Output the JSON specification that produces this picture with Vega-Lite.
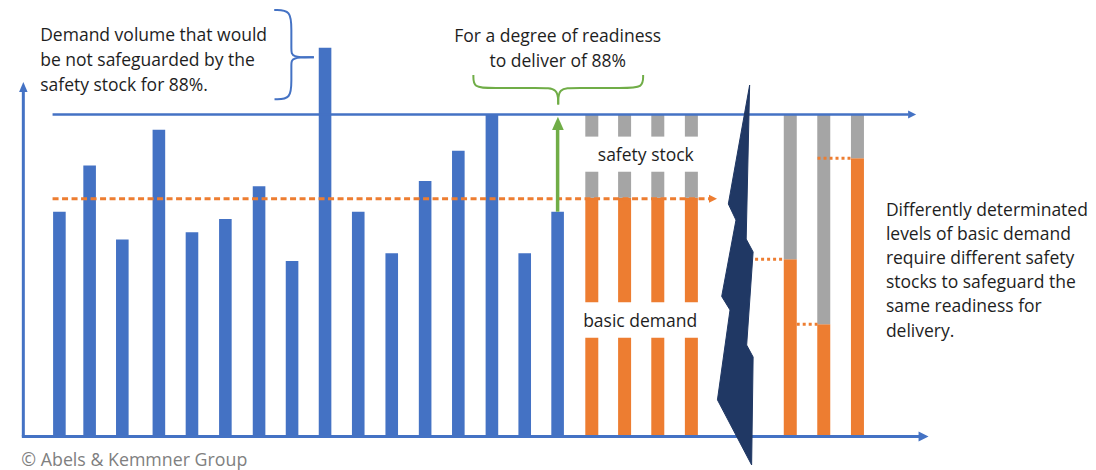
{
  "$schema": "https://vega.github.io/schema/vega-lite/v6.json",
  "width": 1096,
  "height": 470,
  "autosize": {"type": "none"},
  "padding": 0,
  "background": "white",
  "config": {"view": {"stroke": null}},
  "encoding": {
    "x": {"field": "x", "type": "quantitative", "scale": {"domain": [0, 1096], "nice": false, "zero": false}, "axis": null},
    "y": {"field": "y", "type": "quantitative", "scale": {"domain": [-10.37, 135.5], "nice": false, "zero": false}, "axis": null}
  },
  "layer": [
    {
      "data": {"values": [
        {"x": 54.9, "y": 69.8}, {"x": 85.4, "y": 84.1}, {"x": 118.4, "y": 61.2}, {"x": 155.3, "y": 95.2},
        {"x": 188.7, "y": 63.4}, {"x": 222.4, "y": 67.5}, {"x": 256.4, "y": 77.7}, {"x": 289.7, "y": 54.5},
        {"x": 323, "y": 120.7}, {"x": 356.5, "y": 69.8}, {"x": 390.3, "y": 56.9}, {"x": 424, "y": 79.3},
        {"x": 457.5, "y": 88.7}, {"x": 491.4, "y": 100}, {"x": 524.5, "y": 56.9}, {"x": 557.7, "y": 69.8}
      ]},
      "mark": {"type": "bar", "width": 12.6, "color": "#4472C4"},
      "encoding": {"y2": {"datum": 0}}
    },
    {
      "data": {"values": [
        {"x": 592.2, "y": 30.7, "y2": 0, "k": "basic demand"}, {"x": 592.2, "y": 74.1, "y2": 41.7, "k": "basic demand"}, {"x": 592.2, "y": 82.2, "y2": 74.1, "k": "safety stock"}, {"x": 592.2, "y": 100, "y2": 93.1, "k": "safety stock"},
        {"x": 625.3, "y": 30.7, "y2": 0, "k": "basic demand"}, {"x": 625.3, "y": 74.1, "y2": 41.7, "k": "basic demand"}, {"x": 625.3, "y": 82.2, "y2": 74.1, "k": "safety stock"}, {"x": 625.3, "y": 100, "y2": 93.1, "k": "safety stock"},
        {"x": 658.8, "y": 30.7, "y2": 0, "k": "basic demand"}, {"x": 658.8, "y": 74.1, "y2": 41.7, "k": "basic demand"}, {"x": 658.8, "y": 82.2, "y2": 74.1, "k": "safety stock"}, {"x": 658.8, "y": 100, "y2": 93.1, "k": "safety stock"},
        {"x": 692.7, "y": 30.7, "y2": 0, "k": "basic demand"}, {"x": 692.7, "y": 74.1, "y2": 41.7, "k": "basic demand"}, {"x": 692.7, "y": 82.2, "y2": 74.1, "k": "safety stock"}, {"x": 692.7, "y": 100, "y2": 93.1, "k": "safety stock"},
        {"x": 792.5, "y": 55, "y2": 0, "k": "basic demand"}, {"x": 792.5, "y": 100, "y2": 55, "k": "safety stock"},
        {"x": 826.3, "y": 34.9, "y2": 0, "k": "basic demand"}, {"x": 826.3, "y": 100, "y2": 34.9, "k": "safety stock"},
        {"x": 860.3, "y": 86.4, "y2": 0, "k": "basic demand"}, {"x": 860.3, "y": 100, "y2": 86.4, "k": "safety stock"}
      ]},
      "mark": {"type": "bar", "width": 13},
      "encoding": {
        "y2": {"field": "y2"},
        "color": {"field": "k", "type": "nominal", "scale": {"domain": ["basic demand", "safety stock"], "range": ["#ED7D31", "#A5A5A5"]}, "legend": null}
      }
    },
    {
      "data": {"values": [
        {"x": 18.5, "y": 0, "x2": 18.5, "y2": 108},
        {"x": 17, "y": 0, "x2": 923, "y2": 0}
      ]},
      "mark": {"type": "rule", "color": "#4472C4", "strokeWidth": 3},
      "encoding": {"x2": {"field": "x2"}, "y2": {"field": "y2"}}
    },
    {
      "data": {"values": [{"x": 48, "y": 100, "x2": 912, "y2": 100}]},
      "mark": {"type": "rule", "color": "#4472C4", "strokeWidth": 2.5},
      "encoding": {"x2": {"field": "x2"}, "y2": {"field": "y2"}}
    },
    {
      "data": {"values": [{"x": 48, "y": 73.8, "x2": 711, "y2": 73.8}]},
      "mark": {"type": "rule", "color": "#ED7D31", "strokeWidth": 3, "strokeDash": [6, 3.5]},
      "encoding": {"x2": {"field": "x2"}, "y2": {"field": "y2"}}
    },
    {
      "data": {"values": [
        {"x": 757, "y": 55, "x2": 786, "y2": 55},
        {"x": 799, "y": 34.9, "x2": 820, "y2": 34.9},
        {"x": 820, "y": 86.4, "x2": 854, "y2": 86.4}
      ]},
      "mark": {"type": "rule", "color": "#ED7D31", "strokeWidth": 3, "strokeDash": [3, 3]},
      "encoding": {"x2": {"field": "x2"}, "y2": {"field": "y2"}}
    },
    {
      "data": {"values": [{"x": 557.7, "y": 69.8, "x2": 557.7, "y2": 96.5}]},
      "mark": {"type": "rule", "color": "#70AD47", "strokeWidth": 3.5},
      "encoding": {"x2": {"field": "x2"}, "y2": {"field": "y2"}}
    },
    {
      "data": {"values": [{"x": 18.5, "y": 108.5}]},
      "mark": {"type": "point", "filled": true, "opacity": 1, "color": "#4472C4", "size": 100, "shape": "M0,-1L0.85,1L-0.85,1Z"}
    },
    {
      "data": {"values": [{"x": 915.5, "y": 100}]},
      "mark": {"type": "point", "filled": true, "opacity": 1, "color": "#4472C4", "size": 64, "shape": "M1,0L-1,-1L-1,1Z"}
    },
    {
      "data": {"values": [{"x": 927, "y": 0}]},
      "mark": {"type": "point", "filled": true, "opacity": 1, "color": "#4472C4", "size": 100, "shape": "M1,0L-1,-1L-1,1Z"}
    },
    {
      "data": {"values": [{"x": 714.5, "y": 73.8}]},
      "mark": {"type": "point", "filled": true, "opacity": 1, "color": "#ED7D31", "size": 64, "shape": "M1,0L-1,-1L-1,1Z"}
    },
    {
      "data": {"values": [{"x": 558, "y": 97.2}]},
      "mark": {"type": "point", "filled": true, "opacity": 1, "color": "#70AD47", "size": 177, "shape": "M0,-1L0.88,1L-0.88,1Z"}
    },
    {
      "data": {"values": [
        {"i": 0, "x": 751.5, "y": 109.1}, {"i": 1, "x": 748, "y": 61.3}, {"i": 2, "x": 755, "y": 57.3},
        {"i": 3, "x": 748.5, "y": 28.4}, {"i": 4, "x": 755, "y": 24.7}, {"i": 5, "x": 753.5, "y": -8.8},
        {"i": 6, "x": 719, "y": 11.4}, {"i": 7, "x": 731.7, "y": 39.3}, {"i": 8, "x": 723.3, "y": 43.5},
        {"i": 9, "x": 737.7, "y": 67.2}, {"i": 10, "x": 730, "y": 72.2}
      ]},
      "mark": {"type": "line", "interpolate": "linear-closed", "fill": "#203864", "stroke": "#203864", "strokeWidth": 1},
      "encoding": {"order": {"field": "i", "type": "quantitative"}}
    },
    {
      "data": {"values": [
        {"s": "b1", "i": 0, "x": 271.7, "y": 132.4}, {"s": "b1", "i": 1, "x": 289, "y": 132.4}, {"s": "b1", "i": 2, "x": 289, "y": 126.2},
        {"s": "b1", "i": 3, "x": 289, "y": 120.0}, {"s": "b1", "i": 4, "x": 289, "y": 117.7}, {"s": "b1", "i": 5, "x": 311.7, "y": 117.7},
        {"s": "b2", "i": 0, "x": 311.7, "y": 117.7}, {"s": "b2", "i": 1, "x": 289, "y": 117.7}, {"s": "b2", "i": 2, "x": 289, "y": 115.6},
        {"s": "b2", "i": 3, "x": 289, "y": 110.7}, {"s": "b2", "i": 4, "x": 289, "y": 104.7}, {"s": "b2", "i": 5, "x": 272, "y": 104.7}
      ]},
      "mark": {"type": "line", "interpolate": "basis", "color": "#4472C4", "strokeWidth": 2},
      "encoding": {"detail": {"field": "s"}, "order": {"field": "i", "type": "quantitative"}}
    },
    {
      "data": {"values": [
        {"s": "g1", "i": 0, "x": 472.7, "y": 112.2}, {"s": "g1", "i": 1, "x": 472.7, "y": 108.2}, {"s": "g1", "i": 2, "x": 490, "y": 108.2},
        {"s": "g1", "i": 3, "x": 540, "y": 108.2}, {"s": "g1", "i": 4, "x": 558.3, "y": 108.2}, {"s": "g1", "i": 5, "x": 558.3, "y": 103.1},
        {"s": "g2", "i": 0, "x": 558.3, "y": 103.1}, {"s": "g2", "i": 1, "x": 558.3, "y": 108.2}, {"s": "g2", "i": 2, "x": 575, "y": 108.2},
        {"s": "g2", "i": 3, "x": 625, "y": 108.2}, {"s": "g2", "i": 4, "x": 644, "y": 108.2}, {"s": "g2", "i": 5, "x": 644, "y": 112.2}
      ]},
      "mark": {"type": "line", "interpolate": "basis", "color": "#70AD47", "strokeWidth": 2},
      "encoding": {"detail": {"field": "s"}, "order": {"field": "i", "type": "quantitative"}}
    },
    {
      "data": {"values": [
        {"x": 35.5, "y": 122.9, "t": "Demand volume that would"},
        {"x": 35.5, "y": 115.1, "t": "be not safeguarded by the"},
        {"x": 35.5, "y": 107.4, "t": "safety stock for 88%."},
        {"x": 889, "y": 68.5, "t": "Differently determinated"},
        {"x": 889, "y": 61.0, "t": "levels of basic demand"},
        {"x": 889, "y": 53.6, "t": "require different safety"},
        {"x": 889, "y": 46.0, "t": "stocks to safeguard the"},
        {"x": 889, "y": 38.6, "t": "same readiness for"},
        {"x": 889, "y": 31.0, "t": "delivery."}
      ]},
      "mark": {"type": "text", "align": "left", "baseline": "alphabetic", "font": "Open Sans", "fontSize": 17.5, "color": "#1e1e1e"},
      "encoding": {"text": {"field": "t"}}
    },
    {
      "data": {"values": [
        {"x": 557.8, "y": 122.4, "t": "For a degree of readiness"},
        {"x": 557.8, "y": 114.8, "t": "to deliver of 88%"},
        {"x": 646.7, "y": 85.5, "t": "safety stock"},
        {"x": 641, "y": 34.1, "t": "basic demand"}
      ]},
      "mark": {"type": "text", "align": "center", "baseline": "alphabetic", "font": "Open Sans", "fontSize": 17.5, "color": "#1e1e1e"},
      "encoding": {"text": {"field": "t"}}
    },
    {
      "data": {"values": [{"x": 16.5, "y": -9.1, "t": "© Abels & Kemmner Group"}]},
      "mark": {"type": "text", "align": "left", "baseline": "alphabetic", "font": "Open Sans", "fontSize": 17.8, "color": "#808080"},
      "encoding": {"text": {"field": "t"}}
    }
  ]
}
